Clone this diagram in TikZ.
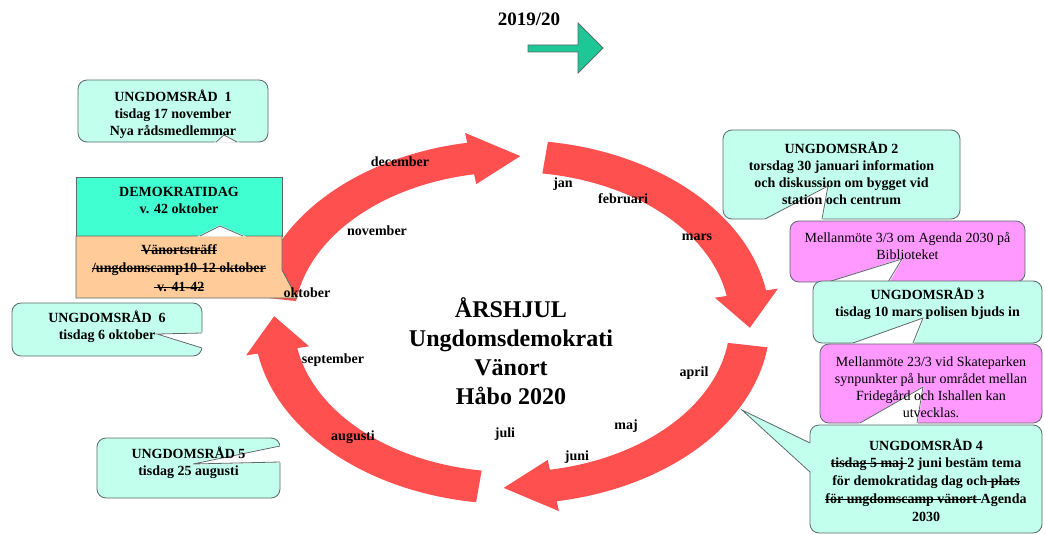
\documentclass[tikz,border=0pt]{standalone}
\usepackage{fontspec}
\setmainfont{Liberation Serif}

\definecolor{ringred}{RGB}{255,80,80}
\definecolor{boxcyan}{RGB}{194,255,236}
\definecolor{daggreen}{RGB}{64,255,208}
\definecolor{campbeige}{RGB}{255,204,153}
\definecolor{motepink}{RGB}{255,153,255}
\definecolor{edgegray}{RGB}{90,105,105}
\definecolor{arrowgreen}{RGB}{30,200,150}

\newsavebox\strkbox
\newcommand\strk[1]{\sbox\strkbox{#1}\rlap{\rule[0.28em]{\wd\strkbox}{0.7pt}}\usebox\strkbox}

\begin{document}
\begin{tikzpicture}[x=1pt,y=1pt,
  callout/.style={draw=edgegray,line width=0.8pt,rounded corners=9pt,inner sep=0pt},
  plainbox/.style={draw=edgegray,line width=0.8pt,inner sep=0pt},
  boxtext/.style={align=center,font=\fontsize{14}{17}\selectfont\bfseries},
  lighttext/.style={align=center,font=\fontsize{14}{17}\selectfont},
  month/.style={font=\fontsize{14}{17}\selectfont\bfseries},
  notch/.style={fill=white,draw=white,line width=1.4pt},
  notchline/.style={draw=edgegray,line width=0.8pt}]
\useasboundingbox (0,0) rectangle (1045,-535);

\begin{scope}[shift={(512,-322)}]
\foreach \s [evaluate=\s as \e using \s-72, evaluate=\s as \t using \s-84] in {172,82,-8,-98}
  \fill[ringred] (\s:258 and 182) arc[start angle=\s, end angle=\e, x radius=258, y radius=182]
    -- (\e:270 and 192) -- (\t:238 and 166) -- (\e:206 and 140) -- (\e:218 and 150)
    arc[start angle=\e, end angle=\s, x radius=218, y radius=150] -- cycle;
\end{scope}

\node[boxtext] (year) at (529,-19) {\fontsize{19}{22}\selectfont 2019/20};
\filldraw[fill=arrowgreen,draw=edgegray,line width=0.8pt] (528,-45) -- (578,-45) -- (578,-23) -- (603,-48) -- (578,-73) -- (578,-52) -- (528,-52) -- cycle;

\node[callout,fill=boxcyan,minimum width=190,minimum height=62] (ur1) at (173,-111) {};
\fill[notch] (216,-142) -- (224,-135) -- (237,-142) -- cycle;
\draw[notchline] (216,-142) -- (224,-135) -- (237,-142);
\node[boxtext] (ur1t) at (173,-114) {UNGDOMSRÅD\ \ 1\\tisdag 17 november\\Nya rådsmedlemmar};

\node[plainbox,fill=daggreen,minimum width=206,minimum height=59] (demo) at (179,-206.5) {};
\filldraw[fill=campbeige,draw=edgegray,line width=0.8pt] (76,-236) -- (282,-236) -- (282,-270) -- (297,-298) -- (76,-298) -- cycle;
\fill[notch] (200,-236) -- (220,-226) -- (243,-236) -- cycle;
\draw[notchline] (200,-236) -- (220,-226) -- (243,-236);
\node[boxtext] (demot) at (179,-200) {DEMOKRATIDAG\\v. 42 oktober};
\node[boxtext,font=\fontsize{14}{18.5}\selectfont\bfseries] (camp) at (179,-268) {\strk{Vänortsträff}\\\strk{/ungdomscamp10-12 oktober}\\\strk{~v. 41-42}};

\node[callout,fill=boxcyan,minimum width=190,minimum height=53] (ur6) at (107,-329.5) {};
\fill[notch] (203,-333) -- (157,-334) -- (203,-348) -- cycle;
\draw[notchline] (202,-333) -- (157,-334) -- (202,-348);
\node[boxtext] (ur6t) at (107,-326.5) {UNGDOMSRÅD\ \ 6\\tisdag 6 oktober};

\node[callout,fill=boxcyan,minimum width=183,minimum height=60] (ur5) at (188.5,-468) {};
\fill[notch] (281,-446) -- (193,-464) -- (281,-462) -- cycle;
\draw[notchline] (280,-446) -- (193,-464) -- (280,-462);
\node[boxtext] (ur5t) at (188.5,-462.5) {UNGDOMSRÅD 5\\tisdag 25 augusti};

\node[callout,fill=boxcyan,minimum width=237,minimum height=89] (ur2) at (841.5,-174.5) {};
\fill[notch] (765,-220) -- (828,-186) -- (822,-220) -- cycle;
\draw[notchline] (765,-219) -- (828,-186) -- (822,-219);
\node[boxtext] (ur2t) at (841.5,-173) {UNGDOMSRÅD 2\\torsdag 30 januari information\\och diskussion om bygget vid\\station och centrum};

\node[callout,fill=motepink,minimum width=235,minimum height=61] (mm1) at (907.5,-251.5) {};
\fill[notch] (828,-283) -- (902,-259) -- (888,-283) -- cycle;
\draw[notchline] (828,-282) -- (902,-259) -- (888,-282);
\node[lighttext] (mm1t) at (907.5,-246) {Mellanmöte 3/3 om Agenda 2030 på\\Biblioteket};

\node[callout,fill=boxcyan,minimum width=229,minimum height=62] (ur3) at (927.5,-312) {};
\fill[notch] (853,-344) -- (923,-318) -- (913,-344) -- cycle;
\draw[notchline] (853,-343) -- (923,-318) -- (913,-343);
\node[boxtext] (ur3t) at (927.5,-304) {UNGDOMSRÅD 3\\tisdag 10 mars polisen bjuds in};

\node[callout,fill=motepink,minimum width=222,minimum height=79] (mm2) at (931,-383.5) {};
\fill[notch] (860,-424) -- (923,-387) -- (917,-424) -- cycle;
\draw[notchline] (860,-423) -- (923,-387) -- (917,-423);
\node[lighttext] (mm2t) at (931,-387) {Mellanmöte 23/3 vid Skateparken\\synpunkter på hur området mellan\\Fridegård och Ishallen kan\\utvecklas.};

\node[callout,fill=boxcyan,minimum width=232,minimum height=108] (ur4) at (926,-479) {};
\fill[boxcyan] (811,-443) -- (742,-410) -- (811,-472) -- cycle;
\draw[notchline] (810,-443) -- (742,-410) -- (810,-472);
\node[boxtext,font=\fontsize{14}{17.8}\selectfont\bfseries] (ur4t) at (926,-480) {UNGDOMSRÅD 4\\\strk{tisdag 5 maj }2 juni bestäm tema\\för demokratidag dag och\strk{ plats}\\\strk{för ungdomscamp vänort }Agenda\\2030};

\node[boxtext,font=\fontsize{24}{29}\selectfont\bfseries] (title) at (511,-351) {ÅRSHJUL\\Ungdomsdemokrati\\Vänort\\Håbo 2020};

\node[month] (dec) at (400,-162) {december};
\node[month] (jan) at (563,-184) {jan};
\node[month] (feb) at (623,-199) {februari};
\node[month] (mar) at (697,-237) {mars};
\node[month] (nov) at (377,-231) {november};
\node[month] (okt) at (307,-293) {oktober};
\node[month] (sep) at (333,-360) {september};
\node[month] (apr) at (694,-373) {april};
\node[month] (aug) at (353,-437) {augusti};
\node[month] (jul) at (505,-434) {juli};
\node[month] (maj) at (626,-426) {maj};
\node[month] (jun) at (577,-457) {juni};
\end{tikzpicture}
\end{document}
